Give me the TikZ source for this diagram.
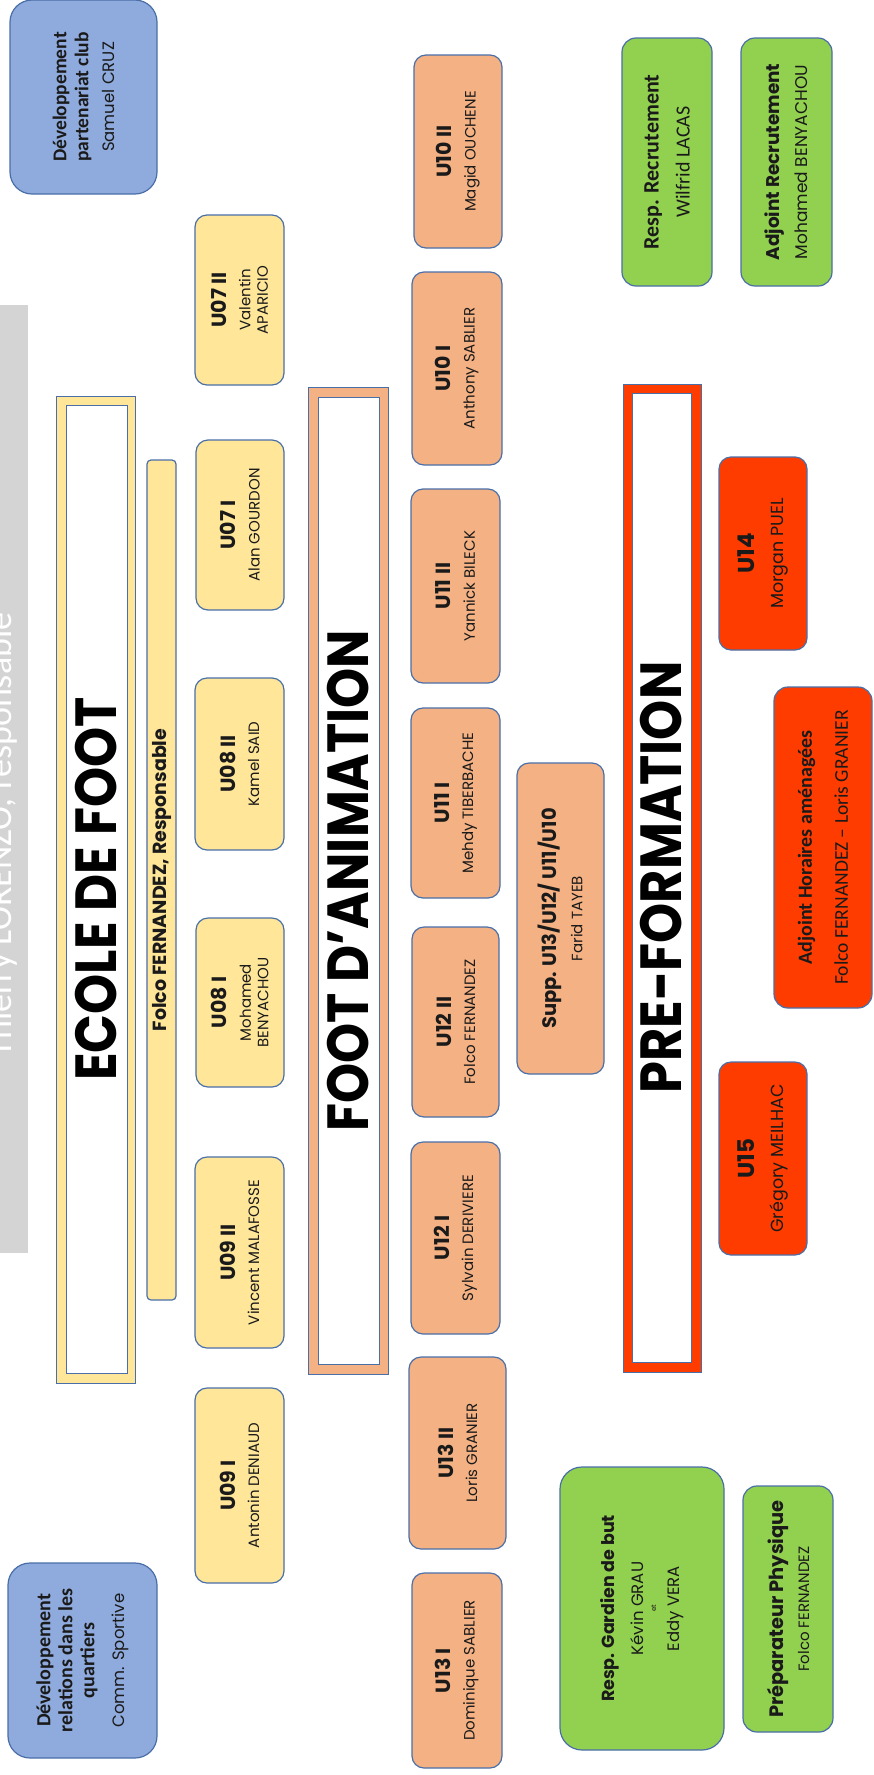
\documentclass[tikz,border=0pt]{standalone}
\usepackage{fontspec}
\newfontfamily\pop{Poppins}
\newfontfamily\popt[FakeStretch=0.88]{Poppins}
\newfontfamily\carl{Carlito}
\definecolor{yel}{HTML}{FFE699}
\definecolor{ora}{HTML}{F4B183}
\definecolor{redb}{HTML}{FF3C00}
\definecolor{grn}{HTML}{92D050}
\definecolor{blu}{HTML}{8FAADC}
\definecolor{bdr}{HTML}{4A6FA8}
\definecolor{gry}{HTML}{D4D4D4}
\definecolor{txt}{HTML}{1A1A1A}
\newcommand\ttl[2]{{\bfseries\fontsize{#1}{#1}\selectfont #2}}
\newcommand\cbt[2]{{\carl\bfseries\fontsize{#1}{#1}\selectfont #2}}
\begin{document}
\begin{tikzpicture}[x=1pt,y=-1pt,
  sz/.style 2 args={minimum height=#1pt, minimum width=#2pt},
  box/.style={draw=bdr, line width=1.2pt, rotate=90, align=center, inner sep=0pt, text=txt},
  ubox/.style={box, rounded corners=12pt, font=\pop\fontsize{15}{17.5}\selectfont},
  rbox/.style={box, fill=redb, rounded corners=12pt, font=\pop\fontsize{17.5}{20}\selectfont},
  frameo/.style={draw=bdr, line width=1pt, rotate=90, inner sep=0pt},
  framei/.style={draw=bdr, fill=white, line width=0.8pt, rotate=90, inner sep=0pt, text=black,
                 font=\popt\bfseries\fontsize{58}{58}\selectfont}
]
\useasboundingbox (0,0) rectangle (874,1775);

% grey band
\node[fill=gry, inner sep=0pt, rotate=90, sz={28}{948}] (band) at (14,779) {};
\node[rotate=90, anchor=base, inner sep=0pt, text=white, font=\carl\fontsize{36}{40}\selectfont] (boss) at (11,835) {Thierry LORENZO, responsable};

% blue boxes
\node[box, fill=blu, rounded corners=22pt, sz={147}{194}, font=\pop\fontsize{16.5}{22}\selectfont] (btop) at (83.5,97)
  {\cbt{19.5}{Développement}\\\cbt{19.5}{partenariat club}\\[4pt]Samuel CRUZ};
\node[box, fill=blu, rounded corners=22pt, sz={149}{195}, font=\pop\fontsize{16.5}{22}\selectfont] (bbot) at (82.5,1660.5)
  {\cbt{20}{Développement}\\\cbt{20}{relations dans les}\\\cbt{20}{quartiers}\\[8pt]Comm. Sportive};

% frames
\node[frameo, fill=yel, sz={79}{987}] (ecoleo) at (95.5,889.5) {};
\node[framei, sz={61}{968}] (ecole) at (96.5,889) {ECOLE DE FOOT};
\node[frameo, fill=ora, sz={80}{987}] (animo) at (348,880.5) {};
\node[framei, sz={61}{967}] (anim) at (348.5,880.5) {FOOT D’ANIMATION};
\node[frameo, fill=redb, sz={78}{988}] (preo) at (662,878) {};
\node[framei, sz={59}{969}] (pre) at (661.5,877.5) {PRE-FORMATION};

% responsible bar
\node[box, fill=yel, rounded corners=4pt, sz={29}{840}, font=\pop\bfseries\fontsize{19}{19}\selectfont] (resp) at (161.5,880) {Folco FERNANDEZ, Responsable};

% yellow teams
\node[ubox, fill=yel, sz={89}{170}] (u07b) at (239.5,300) {\ttl{20.5}{U07 II}\\[6.5pt]Valentin\\APARICIO};
\node[ubox, fill=yel, sz={88}{170}] (u07a) at (240,525) {\ttl{20.5}{U07 I}\\[6.5pt]Alan GOURDON};
\node[ubox, fill=yel, sz={89}{172}] (u08b) at (239.5,764) {\ttl{20.5}{U08 II}\\[6.5pt]Kamel SAID};
\node[ubox, fill=yel, sz={88}{169}] (u08a) at (240,1002.5) {\ttl{20.5}{U08 I}\\[6.5pt]Mohamed\\BENYACHOU};
\node[ubox, fill=yel, sz={89}{191}] (u09b) at (239.5,1252.5) {\ttl{20.5}{U09 II}\\[6.5pt]Vincent MALAFOSSE};
\node[ubox, fill=yel, sz={89}{195}] (u09a) at (239.5,1485.5) {\ttl{20.5}{U09 I}\\[6.5pt]Antonin DENIAUD};

% orange teams
\node[ubox, fill=ora, sz={88}{193}] (u10b) at (458,151.5) {\ttl{20.5}{U10 II}\\[6.5pt]Magid OUCHENE};
\node[ubox, fill=ora, sz={90}{193}] (u10a) at (457,368.5) {\ttl{20.5}{U10 I}\\[6.5pt]Anthony SABLIER};
\node[ubox, fill=ora, sz={89}{194}] (u11b) at (455.5,586) {\ttl{20.5}{U11 II}\\[6.5pt]Yannick BILECK};
\node[ubox, fill=ora, sz={89}{190}] (u11a) at (455.5,803) {\ttl{20.5}{U11 I}\\[6.5pt]Mehdy TIBERBACHE};
\node[ubox, fill=ora, sz={87}{190}] (u12b) at (455.5,1022) {\ttl{20.5}{U12 II}\\[6.5pt]Folco FERNANDEZ};
\node[ubox, fill=ora, sz={89}{192}] (u12a) at (455.5,1238) {\ttl{20.5}{U12 I}\\[6.5pt]Sylvain DERIVIERE};
\node[ubox, fill=ora, sz={97}{192}] (u13b) at (457.5,1453) {\ttl{20.5}{U13 II}\\[6.5pt]Loris GRANIER};
\node[ubox, fill=ora, sz={90}{195}] (u13a) at (457,1670.5) {\ttl{20.5}{U13 I}\\[6.5pt]Dominique SABLIER};
\node[ubox, fill=ora, sz={87}{311}] (supp) at (560.5,918.5) {\ttl{19.5}{Supp. U13/U12/\ U11/U10}\\[8pt]Farid TAYEB};

% red
\node[rbox, sz={88}{193}] (u14) at (763,553.5) {\ttl{23}{U14}\\[9pt]Morgan PUEL};
\node[rbox, sz={88}{193}] (u15) at (763,1158.5) {\ttl{23}{U15}\\[9pt]Grégory MEILHAC};
\node[box, fill=redb, rounded corners=14pt, sz={98}{321}, font=\carl\fontsize{19.5}{22}\selectfont] (adjh) at (823,847.5)
  {\cbt{20}{Adjoint Horaires aménagées}\\[14pt]Folco FERNANDEZ – Loris GRANIER};

% green
\node[box, fill=grn, rounded corners=14pt, sz={90}{248}, font=\carl\fontsize{20}{22}\selectfont] (recr) at (667,162)
  {\cbt{22}{Resp. Recrutement}\\[9pt]Wilfrid LACAS};
\node[box, fill=grn, rounded corners=14pt, sz={91}{248}, font=\pop\fontsize{17}{20}\selectfont] (adjr) at (786.5,162)
  {\ttl{18.4}{Adjoint Recrutement}\\[8pt]Mohamed BENYACHOU};
\node[box, fill=grn, rounded corners=22pt, sz={164}{283}, font=\pop\fontsize{16.5}{17}\selectfont] (gard) at (642,1608.5)
  {\ttl{17.5}{Resp. Gardien de but}\\[10pt]Kévin GRAU\\[-4pt]{\fontsize{7}{7}\selectfont et}\\[6pt]Eddy VERA};
\node[box, fill=grn, rounded corners=14pt, sz={90}{246}, font=\pop\fontsize{15}{18}\selectfont] (prep) at (788,1609)
  {\ttl{19.4}{Préparateur Physique}\\[8pt]Folco FERNANDEZ};
\end{tikzpicture}
\end{document}
